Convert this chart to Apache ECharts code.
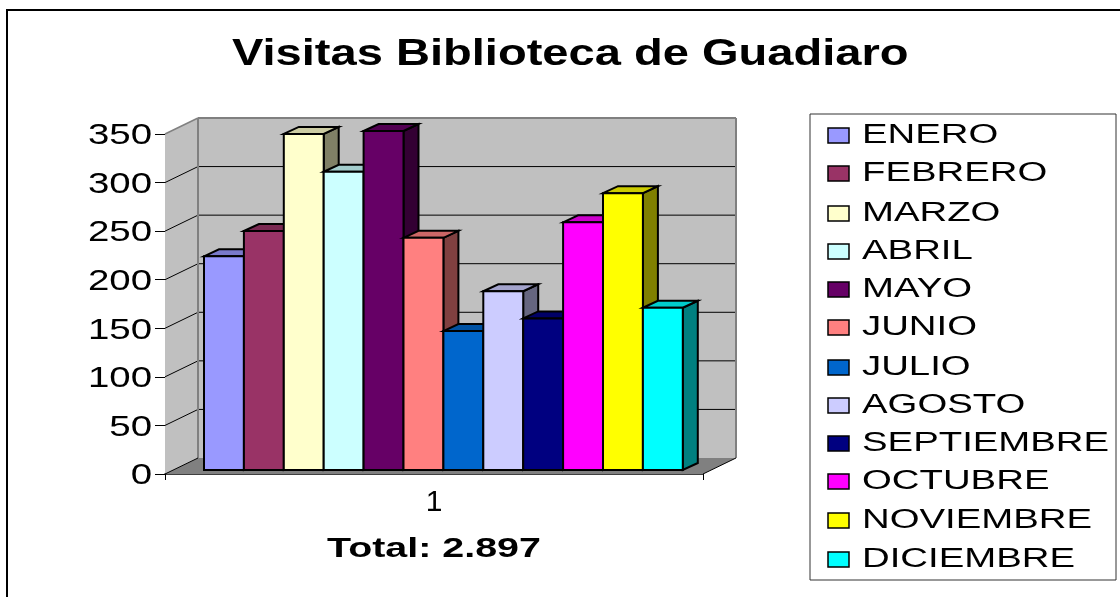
<!DOCTYPE html>
<html><head><meta charset="utf-8">
<style>html,body{margin:0;padding:0;background:#fff}#c{width:1120px;height:597px}</style>
<script src="https://cdn.jsdelivr.net/npm/echarts@6/dist/echarts.min.js"></script>
</head><body><div id="c"></div>
<script>
const months = ['ENERO','FEBRERO','MARZO','ABRIL','MAYO','JUNIO','JULIO','AGOSTO','SEPTIEMBRE','OCTUBRE','NOVIEMBRE','DICIEMBRE'];
const visits = [220,246,346,307,349,239,143,184,156,255,285,167];
const colors = ['#9999FF','#993366','#FFFFCC','#CCFFFF','#660066','#FF8080','#0066CC','#CCCCFF','#000080','#FF00FF','#FFFF00','#00FFFF'];
const ticks = [0,50,100,150,200,250,300,350];
const category = ['1'];
const titleText = 'Visitas Biblioteca de Guadiaro';
const footerText = 'Total: 2.897';

const FONT = '"Liberation Sans", Arial, sans-serif';
const WALL_DX = 33, WALL_DY = -16;
const BAR_OY = -4;
const BAR_W = 39.9, BAR_DX = 15, BAR_DY = -7;

function shade(hex, f){
  const n = parseInt(hex.slice(1),16);
  const c = s => Math.round(((n>>s)&255)*f);
  return `rgb(${c(16)},${c(8)},${c(0)})`;
}
function poly(points, fill, stroke, lw){
  return {type:'polygon', shape:{points}, style:{fill, stroke:stroke||'none', lineWidth:lw||0}};
}
function line(a,b,stroke,lw){
  return {type:'line', shape:{x1:a[0],y1:a[1],x2:b[0],y2:b[1]}, style:{stroke, lineWidth:lw}};
}

function renderBox(params, api){
  const y0 = api.coord([0,0])[1], yT = api.coord([0,350])[1];
  const cs = params.coordSys, L = cs.x, R = cs.x+cs.width;
  const dx = WALL_DX, dy = WALL_DY, ch = [];
  ch.push(poly([[L,yT],[L+dx,yT+dy],[L+dx,y0+dy],[L,y0]],'#C0C0C0'));
  ch.push(poly([[L+dx,yT+dy],[R+dx,yT+dy],[R+dx,y0+dy],[L+dx,y0+dy]],'#C0C0C0'));
  ch.push(poly([[L,y0],[L+dx,y0+dy],[R+dx,y0+dy],[R,y0]],'#808080'));
  ticks.forEach(t=>{
    if(t===0||t===350) return;
    const y = api.coord([0,t])[1];
    ch.push(line([L,y],[L+dx,y+dy],'#000',1));
    ch.push(line([L+dx,y+dy],[R+dx,y+dy],'#000',1));
  });
  ch.push(line([L,yT],[L+dx,yT+dy],'#808080',1.5));
  ch.push(line([L+dx,yT+dy],[R+dx,yT+dy],'#808080',2));
  ch.push(line([L+dx,yT+dy],[L+dx,y0+dy],'#808080',2));
  ch.push(line([R+dx,yT+dy],[R+dx,y0+dy],'#808080',2));
  ch.push(line([L,y0],[L+dx,y0+dy],'#000',1));
  ch.push(line([R,y0],[R+dx,y0+dy],'#000',1));
  return {type:'group',children:ch};
}
function renderBar(idx){
  return function(params, api){
    const v = api.value(1);
    const base = api.coord([0,0]), top = api.coord([0,v]);
    const x0 = params.coordSys.x + 39 + BAR_W*idx;
    const yB = base[1]+BAR_OY, yU = top[1]+BAR_OY;
    const x1 = x0+BAR_W, dx = BAR_DX, dy = BAR_DY, c = colors[idx];
    return {type:'group',children:[
      poly([[x1,yU],[x1+dx,yU+dy],[x1+dx,yB+dy],[x1,yB]],shade(c,.5),'#000',2),
      poly([[x0,yU],[x0+dx,yU+dy],[x1+dx,yU+dy],[x1,yU]],shade(c,.8),'#000',2),
      poly([[x0,yU],[x1,yU],[x1,yB],[x0,yB]],c,'#000',2)
    ]};
  };
}
function renderTick(params, api){
  const t = api.value(1), y = api.coord([0,t])[1];
  const right = params.coordSys.x-13;
  return {type:'text', x:right, y:y+2, originX:0, originY:0, scaleX:1.28, silent:true,
    style:{text:String(t), x:0, y:0, font:'30px '+FONT, fill:'#000', textAlign:'right', textVerticalAlign:'middle'}};
}
function stretched(text, x, y, font, sx, align){
  return {type:'text', x, y, scaleX:sx, originX:0, originY:0, silent:true,
    style:{text, x:0, y:0, font, fill:'#000', textAlign:align||'left', textVerticalAlign:'middle'}};
}

const series = [
  {type:'custom', name:'box', silent:true, z:1, renderItem:renderBox, data:[[0,0]], clip:false},
  {type:'custom', name:'ticks', silent:true, z:1, renderItem:renderTick, data:ticks.map(t=>[0,t]), clip:false}
];
months.forEach((m,i)=>series.push({type:'custom', name:m, silent:true, z:3+i, renderItem:renderBar(i), data:[[0,visits[i]]], clip:false}));

const rowY = [134,172,212,250,288,326,366,404,442,480,519,558];
const legendEls = [{type:'rect', shape:{x:810,y:114,width:306,height:466}, style:{fill:'#fff',stroke:'#333',lineWidth:1}}];
months.forEach((m,i)=>{
  legendEls.push({type:'rect', shape:{x:828,y:rowY[i]-6,width:21,height:15}, style:{fill:colors[i],stroke:'#000',lineWidth:1.5}});
  legendEls.push(stretched(m,862,rowY[i]+2,'27px '+FONT,1.42));
});

const chart = echarts.init(document.getElementById('c'),null,{renderer:'canvas'});
chart.setOption({
  animation:false,
  backgroundColor:'#fff',
  grid:{left:165,top:134,width:538,height:340,containLabel:false},
  xAxis:{type:'category',data:category,boundaryGap:true,
    axisLine:{lineStyle:{color:'#000',width:1.5}},
    axisTick:{show:true,length:6,alignWithLabel:false,lineStyle:{color:'#000',width:1}},
    axisLabel:{show:true,fontFamily:FONT,fontSize:30,color:'#000',margin:14},
    splitLine:{show:false}},
  yAxis:{type:'value',min:0,max:350,interval:50,
    axisLine:{show:true,lineStyle:{color:'#000',width:1}},
    axisTick:{show:true,length:10,lineStyle:{color:'#000',width:1}},
    axisLabel:{show:false},splitLine:{show:false}},
  series,
  graphic:[
    {type:'rect',z:-1,silent:true,shape:{x:7,y:10,width:1200,height:700},style:{fill:'#fff',stroke:'#000',lineWidth:2}},
    {type:'group',silent:true,children:[
      stretched(titleText,232,55,'bold 37px '+FONT,1.272),
      stretched(footerText,327,550,'bold 27px '+FONT,1.46)
    ].concat(legendEls)}
  ]
});
</script></body></html>
